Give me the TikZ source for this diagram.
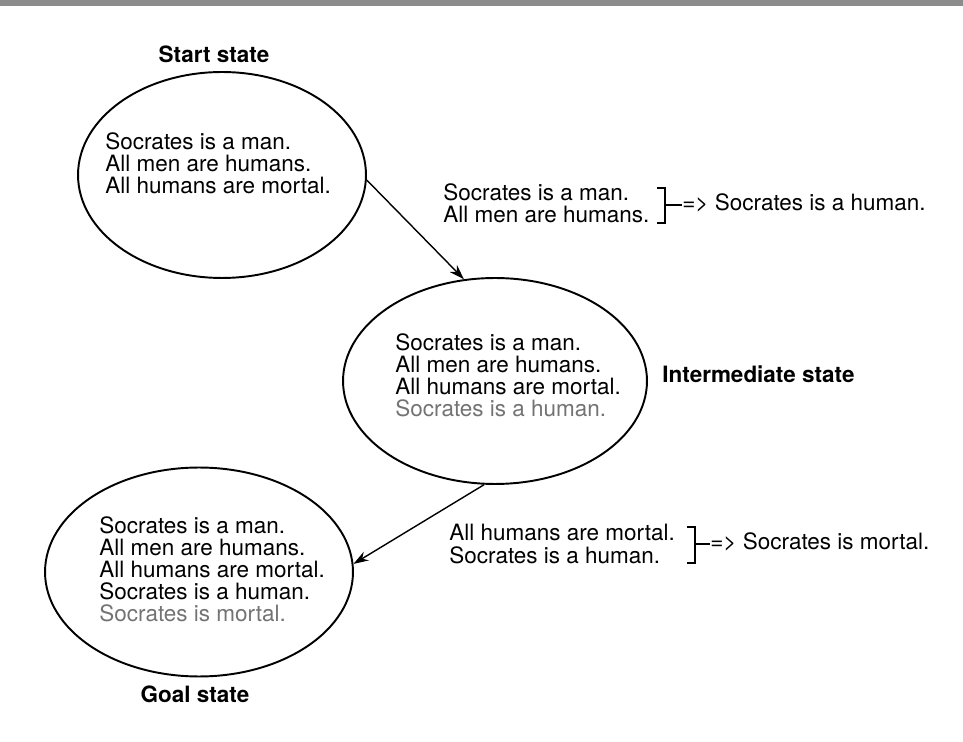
\documentclass[tikz,border=0pt]{standalone}
\usepackage{fontspec}
\setmainfont{TeX Gyre Heros}
\usetikzlibrary{shapes.geometric,arrows.meta}

\begin{document}
\begin{tikzpicture}[x=0.02cm,y=-0.02cm]
                \tikzset{state/.style={draw, ellipse, line width=1.1pt, inner sep=0pt},
                facts/.style={align=left, anchor=base west, inner sep=0pt,
                    font=\fontsize{12.8}{12.6}\selectfont},
                statename/.style={anchor=base, inner sep=0pt,
                    font=\bfseries\fontsize{12.8}{14}\selectfont},
                link/.style={-{Stealth[length=3mm,width=2mm]}, line width=0.8pt},
                bracket/.style={line width=0.7pt}}

                \useasboundingbox (0,0) rectangle (963,742);
                \fill[black!45] (0,0) rectangle (963,6);

                % the three states
                \node[state, minimum width=5.76cm, minimum height=4.12cm] (start) at (222,175) {};
                \node[state, minimum width=6.08cm, minimum height=4.12cm] (inter) at (495,381) {};
                \node[state, minimum width=6.16cm, minimum height=4.18cm] (goal) at (199,572) {};

                % base of a fact list is its last line
                \node[facts] (startfacts) at (105,194) {Socrates is a man.\\All men are humans.\\All humans are mortal.};
                \node[facts] (interfacts) at (395,417) {Socrates is a man.\\All men are humans.\\All humans are mortal.\\{\color{black!55}Socrates is a human.}};
                \node[facts] (goalfacts) at (99,622) {Socrates is a man.\\All men are humans.\\All humans are mortal.\\Socrates is a human.\\{\color{black!55}Socrates is mortal.}};

                \node[statename] (startname) at (214,63) {Start state};
                \node[statename, anchor=base west] (intername) at (662,383) {Intermediate state};
                \node[statename] (goalname) at (195,702) {Goal state};

                \draw[link] (start.-2) -- (inter.107);
                \draw[link] (inter.264) -- (goal.3);

                % first inference
                \node[facts] (rule1) at (443,223) {Socrates is a man.\\All men are humans.};
                \draw[bracket] (657,188) -- (665,188) -- (665,223) -- (657,223);
                \draw[bracket] (665,205) -- (682,205);
                \node[facts] (concl1) at (682,211) {=> Socrates is a human.};

                % second inference
                \node[facts] (rule2) at (449,563) {All humans are mortal.\\Socrates is a human.};
                \draw[bracket] (687,527) -- (695,527) -- (695,563) -- (687,563);
                \draw[bracket] (695,544) -- (710,544);
                \node[facts] (concl2) at (710,550) {=> Socrates is mortal.};
\end{tikzpicture}
\end{document}
